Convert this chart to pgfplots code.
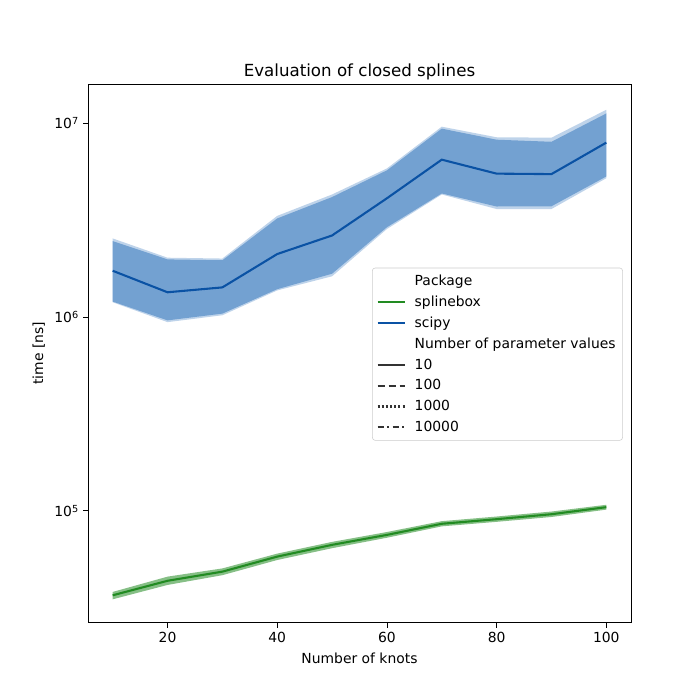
\documentclass[border=0pt]{standalone}
\usepackage{pgfplots}
\pgfplotsset{compat=1.18}
\usepackage{fontspec}
\setmainfont{DejaVu Sans}
\definecolor{sbgreen}{RGB}{34,139,34}
\definecolor{spblue}{RGB}{10,82,164}
\definecolor{bandblue}{RGB}{40,110,185}
\definecolor{leggray}{RGB}{51,51,51}
\begin{document}
\begin{tikzpicture}
\begin{axis}[
  at={(0,0)}, anchor=south west,
  scale only axis, width=391pt, height=388pt,
  ymode=log, log basis y=10,
  xmin=5.5, xmax=104.5, ymin=26470, ymax=1.589e7,
  xtick={20,40,60,80,100},
  ytick={1e5,1e6,1e7},
  yticklabels={10\raisebox{0.55ex}{\fontsize{7}{8}\selectfont 5},10\raisebox{0.55ex}{\fontsize{7}{8}\selectfont 6},10\raisebox{0.55ex}{\fontsize{7}{8}\selectfont 7}},
  /pgf/number format/assume math mode=true,
  tick label style={font=\fontsize{10}{12}\selectfont},
  tick align=outside, tick pos=left,
  major tick length=3.5pt, minor tick length=2pt,
  every tick/.style={black, line width=0.6pt},
  axis line style={line width=0.6pt},
  xlabel={Number of knots}, ylabel={time [ns]},
  label style={font=\fontsize{10}{12}\selectfont},
  title={Evaluation of closed splines},
  title style={font=\fontsize{12}{14}\selectfont, yshift=-7pt},
  legend style={at={(0.985,0.659)}, anchor=north east, draw=black!20, rounded corners=2pt, fill=white, fill opacity=0.8, text opacity=1, font=\fontsize{10}{12}\selectfont, row sep=2.0pt, inner sep=3pt},
  legend cell align=left,
  legend image code/.code={\draw[#1] (0pt,0pt) -- (20pt,0pt); \path (24pt,0pt);},
]
% scipy outer band
\addplot[fill=bandblue, fill opacity=0.3, draw=none, forget plot] coordinates {
(10,2.54e6) (20,2.02e6) (30,2.0e6) (40,3.32e6) (50,4.28e6) (60,5.83e6) (70,9.57e6) (80,8.44e6) (90,8.4e6) (100,1.17e7)
(100,5.19e6) (90,3.6e6) (80,3.6e6) (70,4.28e6) (60,2.84e6) (50,1.62e6) (40,1.37e6) (30,1.02e6) (20,9.4e5) (10,1.19e6)} -- cycle;
% scipy inner band
\addplot[fill=bandblue, fill opacity=0.5, draw=none, forget plot] coordinates {
(10,2.46e6) (20,1.98e6) (30,1.96e6) (40,3.22e6) (50,4.15e6) (60,5.7e6) (70,9.35e6) (80,8.2e6) (90,8.0e6) (100,1.12e7)
(100,5.3e6) (90,3.72e6) (80,3.71e6) (70,4.33e6) (60,2.9e6) (50,1.67e6) (40,1.39e6) (30,1.04e6) (20,9.6e5) (10,1.2e6)} -- cycle;
% splinebox band
\addplot[fill=sbgreen, fill opacity=0.55, draw=none, forget plot] coordinates {
(10,3.82e4) (20,4.58e4) (30,5.05e4) (40,6.02e4) (50,6.92e4) (60,7.78e4) (70,8.85e4) (80,9.35e4) (90,9.92e4) (100,1.075e5)
(100,1.015e5) (90,9.3e4) (80,8.78e4) (70,8.32e4) (60,7.27e4) (50,6.42e4) (40,5.58e4) (30,4.66e4) (20,4.15e4) (10,3.5e4)} -- cycle;
\addlegendimage{empty legend}\addlegendentry{Package}
\addplot[sbgreen, line width=1.5pt] coordinates {
(10,3.67e4) (20,4.36e4) (30,4.86e4) (40,5.81e4) (50,6.68e4) (60,7.52e4) (70,8.58e4) (80,9.06e4) (90,9.61e4) (100,1.045e5)};
\addlegendentry{splinebox}
\addplot[spblue, line width=1.5pt] coordinates {
(10,1.73e6) (20,1.34e6) (30,1.42e6) (40,2.11e6) (50,2.63e6) (60,4.09e6) (70,6.47e6) (80,5.48e6) (90,5.45e6) (100,7.92e6)};
\addlegendentry{scipy}
\addlegendimage{empty legend}\addlegendentry{Number of parameter values}
\addlegendimage{leggray, line width=1.5pt, solid}\addlegendentry{10}
\addlegendimage{leggray, line width=1.5pt, dash pattern=on 5.55pt off 2.4pt}\addlegendentry{100}
\addlegendimage{leggray, line width=1.5pt, dash pattern=on 1.5pt off 1.5pt}\addlegendentry{1000}
\addlegendimage{leggray, line width=1.5pt, dash pattern=on 4.5pt off 2.4pt on 1.5pt off 2.4pt}\addlegendentry{10000}
\end{axis}
\path[use as bounding box] (-63.36pt,-55.44pt) rectangle (440.68pt,448.48pt);
\end{tikzpicture}
\end{document}
